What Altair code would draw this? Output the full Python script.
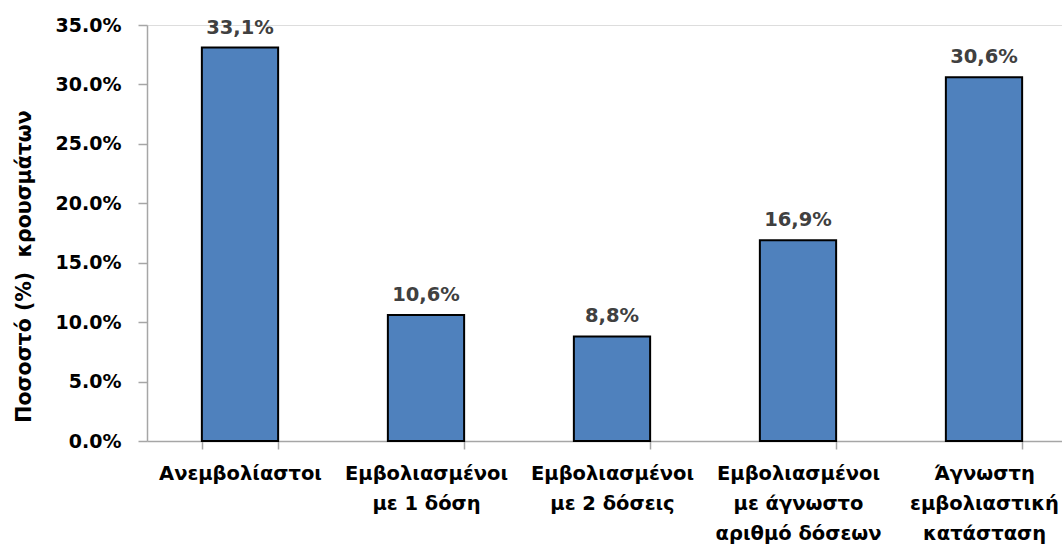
import altair as alt
import pandas as pd

categories = [
    "Ανεμβολίαστοι",
    "Εμβολιασμένοι|με 1 δόση",
    "Εμβολιασμένοι|με 2 δόσεις",
    "Εμβολιασμένοι|με άγνωστο|αριθμό δόσεων",
    "Άγνωστη|εμβολιαστική|κατάσταση",
]
values = [0.331, 0.106, 0.088, 0.169, 0.306]
value_labels = ["33,1%", "10,6%", "8,8%", "16,9%", "30,6%"]
y_ticks = [0.0, 0.05, 0.10, 0.15, 0.20, 0.25, 0.30, 0.35]

df = pd.DataFrame({"cat": categories, "val": values, "lab": value_labels})

FONT = "DejaVu Sans"

x = alt.X(
    "cat:N",
    sort=None,
    title=None,
    scale=alt.Scale(range=[0, 930], paddingInner=0.59, paddingOuter=0.295),
    axis=alt.Axis(
        labelExpr="split(datum.label, '|')",
        labelAngle=0,
        labelFont=FONT,
        labelFontSize=19.5,
        labelFontWeight="bold",
        labelColor="#000000",
        labelLineHeight=30,
        labelPadding=15,
        labelBaseline="top",
        tickBand="extent",
        tickSize=8,
        tickColor="#a6a6a6",
        tickWidth=1.5,
        domainColor="#a6a6a6",
        domainWidth=1.5,
    ),
)

y = alt.Y(
    "val:Q",
    title="Ποσοστό (%)\u00a0\u00a0κρουσμάτων",
    scale=alt.Scale(domain=[0, 0.35], nice=False),
    axis=alt.Axis(
        values=y_ticks,
        format=".1%",
        grid=False,
        labelFont=FONT,
        labelFontSize=19,
        labelFontWeight="bold",
        labelColor="#000000",
        labelPadding=17,
        tickSize=9,
        tickColor="#a6a6a6",
        tickWidth=1.5,
        domainColor="#a6a6a6",
        domainWidth=1.5,
        titleFont=FONT,
        titleFontSize=20.5,
        titleFontWeight="bold",
        titleColor="#000000",
        titlePadding=21,
        titleY=241,
    ),
)

base = alt.Chart(df)

bars = base.mark_bar(color="#4F81BD", stroke="#000000", strokeWidth=2).encode(x=x, y=y)

texts = base.mark_text(
    font=FONT,
    fontSize=19.5,
    fontWeight="bold",
    color="#404040",
    baseline="bottom",
    dy=-10,
).encode(x=alt.X("cat:N", sort=None), y=alt.Y("val:Q"), text="lab:N")

chart = (
    alt.layer(bars, texts)
    .properties(
        width=915,
        height=416,
        autosize=alt.AutoSizeParams(type="none"),
        padding={"left": 147, "top": 25, "right": 0, "bottom": 107},
    )
    .configure_view(stroke=None)
    .configure(background="#ffffff")
)

chart.save("out.html", embed_options={"renderer": "svg", "actions": False})
